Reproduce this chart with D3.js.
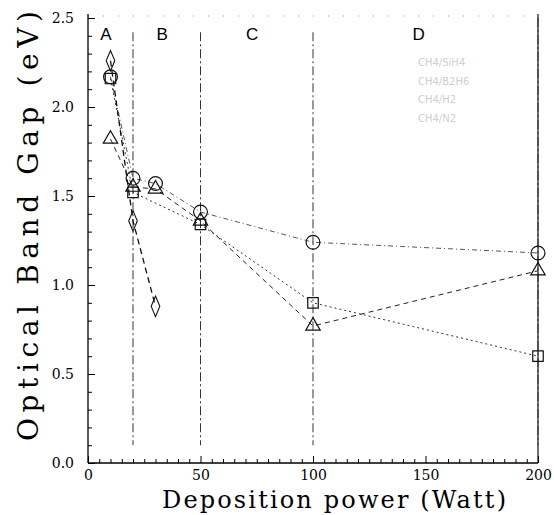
<!DOCTYPE html>
<meta charset="utf-8">
<html>
<head>
  <title>Optical band gap</title>
  <style type="text/css">
    body{margin:0; background:#fff;}
    svg{display:block;}
  </style>
</head>
<body>
  <script src="https://cdn.jsdelivr.net/npm/d3@7/dist/d3.min.js"></script>
  <script>
    // values
    var power = [10, 20, 30, 50, 100, 200];
    var circleGap   = [2.17, 1.60, 1.57, 1.41, 1.24, 1.18];
    var squarePower = [10, 20, 50, 100, 200];
    var squareGap   = [2.16, 1.52, 1.34, 0.90, 0.60];
    var trianglePower = [10, 20, 30, 50, 100, 200];
    var triangleGap   = [1.82, 1.55, 1.54, 1.36, 0.77, 1.08];
    var diamondPower = [10, 20, 30];
    var diamondGap   = [2.26, 1.36, 0.88];
    var regionLines = [20, 50, 100, 200];
    var regionNames = ['A', 'B', 'C', 'D'];
    var regionLabelAt = [8, 33, 73, 147];
    var legendNames = ['CH4/SiH4', 'CH4/B2H6', 'CH4/H2', 'CH4/N2'];
    var xTicks = [0, 50, 100, 150, 200];
    var yTicks = [0, 0.5, 1.0, 1.5, 2.0, 2.5];

    var width = 554,
        height = 515;

    var x = d3.scaleLinear().domain([0, 200]).range([88, 538]);
    var y = d3.scaleLinear().domain([0, 2.5]).range([463, 18]);

    var svg = d3.select('body')
        .append('svg')
        .attr('width', width)
        .attr('height', height);

    // frame: top dotted, right solid
    svg.append('line')
      .attr('x1', x(0)).attr('x2', x(200))
      .attr('y1', y(2.5) - 2).attr('y2', y(2.5) - 2)
      .style('stroke', '#999').style('stroke-width', 1)
      .style('stroke-dasharray', '1,14');
    svg.append('line')
      .attr('x1', x(200)).attr('x2', x(200))
      .attr('y1', y(2.5) - 4).attr('y2', y(0))
      .style('stroke', '#222').style('stroke-width', 1.3);

    // region separators
    svg.selectAll('.region')
      .data(regionLines)
      .enter()
      .append('line')
      .attr('x1', function(d){return x(d)})
      .attr('x2', function(d){return x(d)})
      .attr('y1', function(d){return d == 200 ? y(2.5) : y(2.42)})
      .attr('y2', y(0.1))
      .style('stroke', '#333').style('stroke-width', 1)
      .style('stroke-dasharray', '9,3,2,3');

    svg.selectAll('.region-name')
      .data(regionNames)
      .enter()
      .append('text')
      .attr('x', function(d, i){return x(regionLabelAt[i])})
      .attr('y', 40)
      .attr('text-anchor', 'middle')
      .style('font-family', 'Liberation Sans, Arial, sans-serif')
      .style('font-size', '17px')
      .text(function(d){return d});

    // axes (minor ticks every 5 W and every 0.1 eV)
    var xAxis = d3.axisBottom(x)
      .tickValues(d3.range(0, 201, 5))
      .tickSize(-5)
      .tickFormat(function(d){return xTicks.indexOf(d) >= 0 ? d : ''});
    var gx = svg.append('g')
      .attr('transform', 'translate(0,' + y(0) + ')')
      .call(xAxis);
    gx.select('.domain').attr('d', 'M' + x(0) + ',0H' + x(200)).style('stroke-width', 1.3);
    gx.selectAll('.tick line')
      .attr('y2', function(d){return xTicks.indexOf(d) >= 0 ? -7 : -4});
    gx.selectAll('.tick text')
      .filter(function(){return this.textContent == ''}).remove();
    gx.selectAll('.tick text')
      .attr('y', 7)
      .style('font-family', 'DejaVu Serif, serif')
      .style('font-size', '14px');

    var yAxis = d3.axisLeft(y)
      .tickValues(d3.range(0, 26).map(function(i){return i / 10}))
      .tickSize(-4)
      .tickFormat(function(d){
        return yTicks.some(function(t){return Math.abs(t - d) < 1e-6}) ? d3.format('.1f')(d) : '';
      });
    var gy = svg.append('g')
      .attr('transform', 'translate(' + x(0) + ',0)')
      .call(yAxis);
    gy.select('.domain').attr('d', 'M0,' + y(0) + 'V' + (y(2.5) - 4)).style('stroke-width', 1.3);
    gy.selectAll('.tick line')
      .attr('x2', function(d, i){return i % 5 == 0 ? 7 : 4});
    gy.selectAll('.tick text')
      .filter(function(){return this.textContent == ''}).remove();
    gy.selectAll('.tick text')
      .attr('x', -14)
      .style('font-family', 'DejaVu Serif, serif')
      .style('font-size', '14px');

    svg.append('text')
      .attr('x', 334).attr('y', 508)
      .attr('text-anchor', 'middle')
      .attr('textLength', 344)
      .attr('lengthAdjust', 'spacing')
      .style('font-family', 'DejaVu Serif, serif')
      .style('font-size', '24px')
      .text('Deposition power (Watt)');

    svg.append('text')
      .attr('transform', 'translate(38,226) rotate(-90)')
      .attr('text-anchor', 'middle')
      .attr('textLength', 430)
      .attr('lengthAdjust', 'spacing')
      .style('font-family', 'DejaVu Serif, serif')
      .style('font-size', '28px')
      .text('Optical Band Gap (eV)');

    // series
    var series = [
      {px: power, gy: circleGap, shape: d3.symbolCircle, size: 150, dash: '5,3,1,3', w: 0.9, col: '#444'},
      {px: squarePower, gy: squareGap, shape: d3.symbolSquare, size: 110, dash: '2,3', w: 1, col: '#333'},
      {px: trianglePower, gy: triangleGap, shape: d3.symbolTriangle, size: 90, dash: '5,4', w: 1, col: '#222'},
      {px: diamondPower, gy: diamondGap, shape: d3.symbolDiamond, size: 90, dash: '6,4', w: 1.3, col: '#111'}
    ];

    var line = d3.line()
      .x(function(d){return x(d[0])})
      .y(function(d){return y(d[1])});

    series.forEach(function(s){
      var pts = s.px.map(function(p, i){return [p, s.gy[i]]});
      svg.append('path')
        .attr('d', line(pts))
        .style('fill', 'none')
        .style('stroke', s.col)
        .style('stroke-width', s.w)
        .style('stroke-dasharray', s.dash);
      svg.selectAll(null)
        .data(pts)
        .enter()
        .append('path')
        .attr('transform', function(d){return 'translate(' + x(d[0]) + ',' + y(d[1]) + ')' +
          (s.shape === d3.symbolDiamond ? ' scale(0.85,1.15)' : '')})
        .attr('d', d3.symbol().type(s.shape).size(s.size))
        .style('fill', 'none')
        .style('stroke', '#111')
        .style('stroke-width', 1.2);
    });

    // faded legend
    svg.selectAll('.legend')
      .data(legendNames)
      .enter()
      .append('text')
      .attr('x', 418)
      .attr('y', function(d, i){return 66 + i * 18.5})
      .style('font-family', 'DejaVu Sans, sans-serif')
      .style('font-size', '10px')
      .style('fill', '#cfcfcf')
      .text(function(d){return d});
  </script>
</body>
</html>
